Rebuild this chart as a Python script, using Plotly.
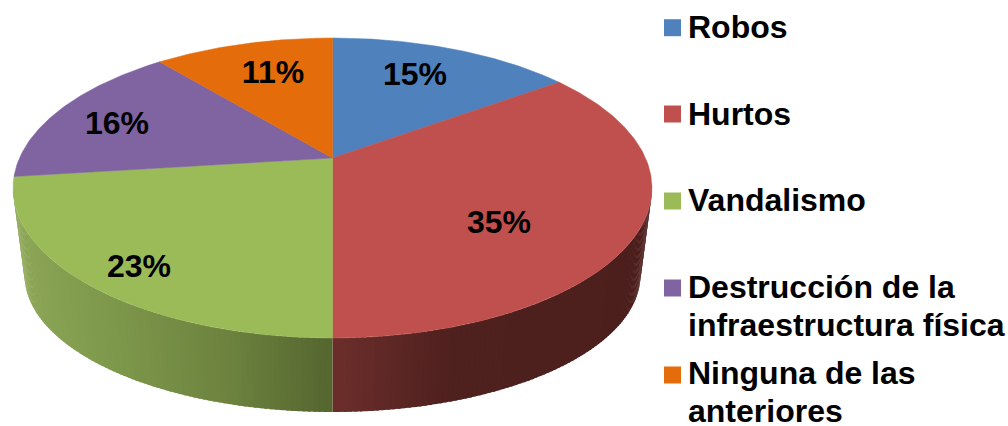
import math
import plotly.graph_objects as go

categories = ["Robos", "Hurtos", "Vandalismo", "Destrucción de la infraestructura física", "Ninguna de las anteriores"]
values = [15, 35, 23, 16, 11]
colors = ["#4F81BD", "#C0504D", "#9BBB59", "#8064A2", "#E46C0A"]

# legend layout (pixel axes)
legend_lines = [["Robos"], ["Hurtos"], ["Vandalismo"], ["Destrucción de la", "infraestructura física"], ["Ninguna de las", "anteriores"]]
legend_marker_y = [27.7, 114, 201, 288, 375]
legend_text_y = [[30], [116.5], [203], [290, 328], [376, 414]]
legend_marker_x = 672.5
legend_text_x = 688
label_xy = [(415, 77), (499, 225), (139, 269), (117, 126), (273, 75)]

# 3-D pie projection
CX, APEX_Y, RIM_CY, C, A, B = 332.5, 158.0, 188.0, 313.0, 144.0, 0.2
BOT_CY, BOT_SX, BOT_SY = 275.0, 308.0 / 319.5, 137.0 / 150.0
WALL_MIN, WALL_MAX = 101.5, 258.5
FONT = "Liberation Sans, Arial, sans-serif"


def rim(theta):
    t = math.radians(theta)
    x, y = math.sin(t), math.cos(t)
    d = 1 + B * y
    return CX + C * x / d, APEX_Y - A * y / d


def foot(theta):
    px, py = rim(theta)
    return CX + (px - CX) * BOT_SX, BOT_CY + (py - RIM_CY) * BOT_SY


def lerp_color(stops, x):
    if x <= stops[0][0]:
        return "rgb(%d,%d,%d)" % stops[0][1]
    for (x0, c0), (x1, c1) in zip(stops, stops[1:]):
        if x <= x1:
            f = (x - x0) / (x1 - x0)
            return "rgb(%d,%d,%d)" % tuple(round(a + (b - a) * f) for a, b in zip(c0, c1))
    return "rgb(%d,%d,%d)" % stops[-1][1]


wall_stops = {
    1: [(332, (108, 46, 43)), (455, (78, 32, 30)), (660, (76, 31, 29))],
    2: [(13, (141, 167, 87)), (120, (124, 150, 74)), (230, (108, 130, 62)), (332, (85, 102, 47))],
}

fig = go.Figure()

# walls
bounds = [0.0]
for v in values:
    bounds.append(bounds[-1] + v / sum(values) * 360.0)
for i in range(len(values)):
    lo, hi = max(bounds[i], WALL_MIN), min(bounds[i + 1], WALL_MAX)
    if hi <= lo or i not in wall_stops:
        continue
    n = max(2, int((hi - lo) * 1.2))
    # paint from the far end of each wall toward x=332 with overlapping strips
    order = range(n) if i == 1 else range(n - 1, -1, -1)
    for k in order:
        t0 = lo + (hi - lo) * k / n
        t1 = min(hi, lo + (hi - lo) * (k + 1.5) / n) if i == 2 else lo + (hi - lo) * (k + 1) / n
        if i == 1:
            t0 = max(lo, lo + (hi - lo) * (k - 0.5) / n)
        p0, p1, q1, q0 = rim(t0), rim(t1), foot(t1), foot(t0)
        col = lerp_color(wall_stops[i], (p0[0] + p1[0]) / 2)
        fig.add_trace(go.Scatter(
            x=[p0[0], p1[0], q1[0], q0[0], p0[0]],
            y=[p0[1], p1[1], q1[1], q0[1], p0[1]],
            mode="lines", fill="toself", fillcolor=col,
            line=dict(color=col, width=0), hoverinfo="skip", showlegend=False))

# top faces
for i, name in enumerate(categories):
    n = max(8, int((bounds[i + 1] - bounds[i]) * 2))
    pts = [rim(bounds[i] + (bounds[i + 1] - bounds[i]) * k / n) for k in range(n + 1)]
    xs = [CX] + [p[0] for p in pts] + [CX]
    ys = [APEX_Y] + [p[1] for p in pts] + [APEX_Y]
    fig.add_trace(go.Scatter(x=xs, y=ys, mode="lines", fill="toself", fillcolor=colors[i],
                             line=dict(color=colors[i], width=0.5), name=name, hoverinfo="name", showlegend=False))

# data labels
fig.add_trace(go.Scatter(x=[p[0] for p in label_xy], y=[p[1] for p in label_xy], mode="text",
                         text=[f"{v}%" for v in values], textposition="middle center",
                         textfont=dict(family=FONT, size=32, color="#000000", weight="bold"),
                         hoverinfo="skip", showlegend=False))

# legend
fig.add_trace(go.Scatter(x=[legend_marker_x] * len(categories), y=legend_marker_y, mode="markers",
                         marker=dict(symbol="square", size=17, color=colors, line=dict(width=0)),
                         hoverinfo="skip", showlegend=False))
tx, ty, tt = [], [], []
for lines, ys in zip(legend_lines, legend_text_y):
    for line, y in zip(lines, ys):
        tx.append(legend_text_x)
        ty.append(y)
        tt.append(line)
fig.add_trace(go.Scatter(x=tx, y=ty, mode="text", text=tt, textposition="middle right",
                         textfont=dict(family=FONT, size=32, color="#000000", weight="bold"),
                         hoverinfo="skip", showlegend=False, cliponaxis=False))

fig.update_layout(
    width=1008, height=426, margin=dict(l=0, r=0, t=0, b=0),
    paper_bgcolor="white", plot_bgcolor="white", showlegend=False,
    font=dict(family=FONT),
    xaxis=dict(range=[0, 1008], visible=False, fixedrange=True),
    yaxis=dict(range=[426, 0], visible=False, fixedrange=True),
)
fig.write_html("out.html", config={"displayModeBar": False, "responsive": False},
               post_script="document.body.style.margin='0';document.documentElement.style.overflow='hidden';")
